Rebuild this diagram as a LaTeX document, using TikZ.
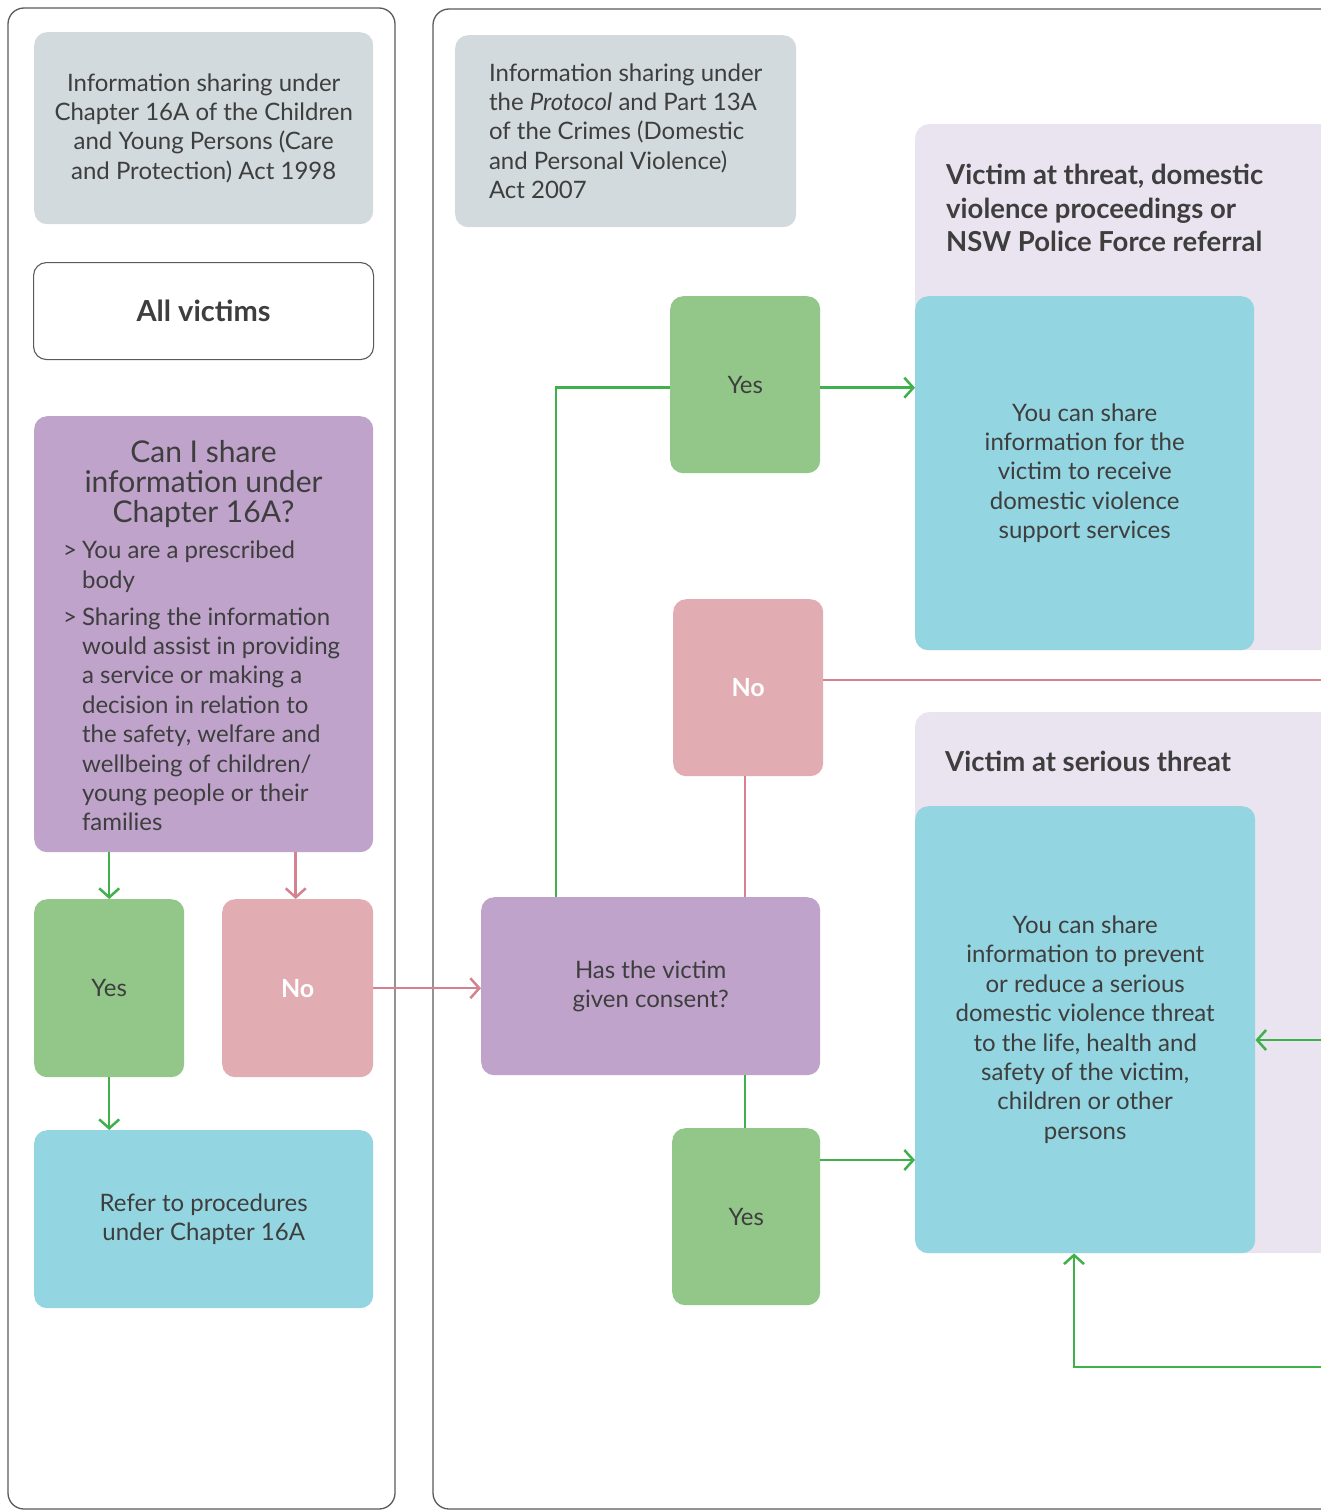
\documentclass[tikz,border=0pt]{standalone}
\usepackage{fontspec}
\setmainfont{Lato}
\usetikzlibrary{arrows.meta}

\definecolor{txt}{HTML}{3E3E3E}
\definecolor{frame}{HTML}{5A5A5A}
\definecolor{greybox}{HTML}{D2DADD}
\definecolor{purplebox}{HTML}{BFA3CB}
\definecolor{greenbox}{HTML}{93C78A}
\definecolor{pinkbox}{HTML}{E2ADB2}
\definecolor{cyanbox}{HTML}{93D5E0}
\definecolor{lavpanel}{HTML}{EAE4F0}
\definecolor{greenline}{HTML}{3FB04A}
\definecolor{pinkline}{HTML}{D4828F}

\newcommand\bodyfont{\fontsize{24}{29.4}\selectfont}
\newcommand\headfont{\fontsize{27.5}{33.5}\selectfont\bfseries}
\newcommand\askfont{\fontsize{30}{29.8}\selectfont}

\tikzset{
  panel/.style={draw=frame, line width=1.3pt, rounded corners=16pt},
  card/.style={rectangle, rounded corners=13pt, inner sep=0pt, anchor=north west,
               text=txt, font=\bodyfont, align=center},
  greycard/.style={card, fill=greybox},
  purplecard/.style={card, fill=purplebox},
  yescard/.style={card, fill=greenbox},
  nocard/.style={card, fill=pinkbox, text=white, font=\fontsize{25}{29}\selectfont\bfseries},
  cyancard/.style={card, fill=cyanbox},
  lavcard/.style={card, fill=lavpanel, rounded corners=14pt},
  heading/.style={anchor=north west, inner sep=0pt, text=txt, font=\headfont, align=left},
  yesline/.style={draw=greenline, line width=2.5pt},
  noline/.style={draw=pinkline, line width=2.5pt},
  yesarrow/.style={yesline, -{Straight Barb[length=9pt,width=20pt,line width=2.5pt]}},
  noarrow/.style={noline, -{Straight Barb[length=9pt,width=20pt,line width=2.5pt]}},
}

\begin{document}
\begin{tikzpicture}[x=1pt,y=-1pt]
\path[use as bounding box] (0,0) rectangle (1321,1510);
\clip (0,0) rectangle (1321,1510);
\fill[white] (0,0) rectangle (1321,1510);

% two outer column frames
\draw[panel] (8,8) rectangle (395,1509);
\draw[panel] (433,9) rectangle (1360,1509);

% ---------- left column: Chapter 16A ----------
\node[greycard, minimum width=339pt, minimum height=192pt] (act1) at (34,32)
  {Information sharing under\\Chapter 16A of the Children\\and Young Persons (Care\\and Protection) Act 1998};

\node[card, draw=frame, line width=1.1pt, fill=white, minimum width=340pt, minimum height=97pt,
      font=\fontsize{29}{30}\selectfont\bfseries] (all) at (33,262) {All victims};

\node[purplecard, minimum width=339pt, minimum height=436pt] (can) at (34,416) {};
\node[anchor=north, inner sep=0pt, text=txt, font=\askfont, align=center] (canT)
  at (203.5,440.5) {Can I share\\information under\\Chapter 16A?};
\node[anchor=north west, inner sep=0pt, text=txt, font=\bodyfont] (canB) at (63,538)
  {\begin{tabular}{@{}l@{}l@{}}
   >\hspace{5pt} & You are a prescribed\\
                 & body\\[7.5pt]
   >\hspace{5pt} & Sharing the information\\
                 & would assist in providing\\
                 & a service or making a\\
                 & decision in relation to\\
                 & the safety, welfare and\\
                 & wellbeing of children/\\
                 & young people or their\\
                 & families
   \end{tabular}};

\node[yescard, minimum width=150pt, minimum height=178pt] (ylft) at (34,899) {Yes};
\node[nocard, minimum width=151pt, minimum height=178pt] (nlft) at (222,899) {No};
\node[cyancard, minimum width=339pt, minimum height=178pt] (refer) at (34,1130)
  {Refer to procedures\\under Chapter 16A};

% ---------- right column: Protocol and Part 13A ----------
\node[greycard, minimum width=341pt, minimum height=192pt, align=left] (act2) at (455,35)
  {Information sharing under\\the \textit{Protocol} and Part 13A\\of the Crimes (Domestic\\and Personal Violence)\\Act 2007};

\node[lavcard, minimum width=440pt, minimum height=526pt] (lav1) at (915,124) {};
\node[heading] (h1) at (946,164)
  {Victim at threat, domestic\\violence proceedings or\\NSW Police Force referral};
\node[cyancard, minimum width=339pt, minimum height=354pt] (cy1) at (915,296)
  {You can share\\information for the\\victim to receive\\domestic violence\\support services};

\node[lavcard, minimum width=440pt, minimum height=541pt] (lav2) at (915,712) {};
\node[heading] (h2) at (945,751) {Victim at serious threat};
\node[cyancard, minimum width=340pt, minimum height=447pt] (cy2) at (915,806)
  {You can share\\information to prevent\\or reduce a serious\\domestic violence threat\\to the life, health and\\safety of the victim,\\children or other\\persons};

\node[yescard, minimum width=150pt, minimum height=177pt] (ytop) at (670,296) {Yes};
\node[nocard, minimum width=150pt, minimum height=177pt] (nmid) at (673,599) {No};
\node[purplecard, minimum width=339pt, minimum height=178pt] (has) at (481,897)
  {Has the victim\\given consent?};
\node[yescard, minimum width=148pt, minimum height=177pt] (ybot) at (672,1128) {Yes};

% loose ends running off the right edge
\coordinate (offNo)  at (1340,680);
\coordinate (offIn)  at (1340,1040);
\coordinate (offLow) at (1340,1367);
\coordinate (lowTurn) at (1074,1367);

% ---------- connectors ----------
\draw[yesarrow] (ylft.north |- can.south) -- (ylft.north);
\draw[noarrow]  ([xshift=-2pt]nlft.north |- can.south) -- ([xshift=-2pt]nlft.north);
\draw[yesarrow] (ylft.south) -- (ylft.south |- refer.north);
\draw[noarrow]  (nlft.east) -- (nlft.east -| has.west);

\draw[yesline]  ([xshift=75pt]has.north west) |- ([yshift=-3pt]ytop.west);
\draw[yesarrow] ([yshift=-3pt]ytop.east) -- ([yshift=-3pt]ytop.east -| cy1.west);
\draw[noline]   ([xshift=-3pt]nmid.south |- has.north) -- ([xshift=-3pt]nmid.south);
\draw[noline]   (offNo -| nmid.east) -- (offNo);
\draw[yesline]  ([xshift=-1pt]ybot.north |- has.south) -- ([xshift=-1pt]ybot.north);
\draw[yesarrow] ([yshift=-32pt]ybot.north east) -- ([yshift=-32pt]ybot.north east -| cy2.west);
\draw[yesarrow] (offIn) -- (offIn -| cy2.east);
\draw[yesarrow] (offLow) -- (lowTurn) -- (lowTurn |- cy2.south);
\end{tikzpicture}
\end{document}
